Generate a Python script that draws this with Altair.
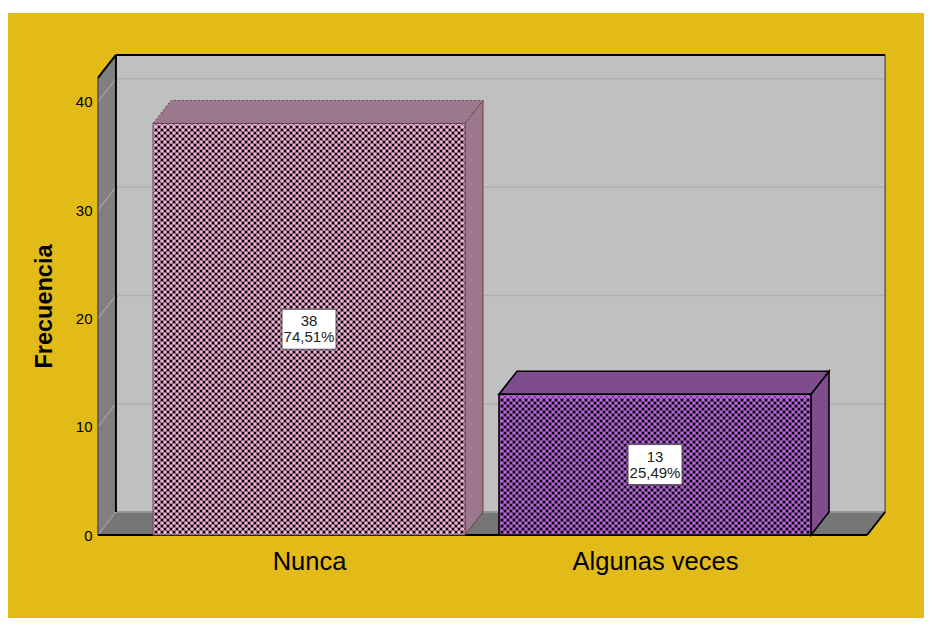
import json
import altair as alt
import pandas as pd

CATEGORIES = ["Nunca", "Algunas veces"]
COUNTS = [38, 13]
PERCENTS = ["74,51%", "25,49%"]
Y_TICKS = [0, 10, 20, 30, 40]

FRONT = ["#f6b0dc", "#b964dd"]
SIDE = ["#9d778b", "#7f4d8e"]
EDGE = ["#5c4450", "#000000"]
EDGE_W = [1, 1.6]
YELLOW = "#e2bb18"

# scale of the drawing: one category step and one count in pixels
PX_X, PX_Y = 346.0, 10.83
X_DOMAIN = [-301 / PX_X, 615 / PX_X]
Y_DOMAIN = [-83 / PX_Y, 522 / PX_Y]
DX, DY = 18 / PX_X, 23 / PX_Y       # depth of the 3-D box
L, R, T = -0.61, 1.613, 42.2        # floor left/right and wall height
HALF = 156 / PX_X                   # half a bar

xs = alt.Scale(domain=X_DOMAIN, nice=False, zero=False)
ys = alt.Scale(domain=Y_DOMAIN, nice=False, zero=False)

x_labels = json.dumps(CATEGORIES)
X_AXIS = alt.Axis(
    values=[0, 1], labelExpr=f"{x_labels}[round(datum.value)]", title=None,
    domain=False, ticks=False, grid=False, offset=-83, labelPadding=14,
    labelFont="Liberation Sans", labelFontSize=25.5, labelColor="#000000", labelAngle=0,
)
Y_AXIS = alt.Axis(
    values=Y_TICKS, title="Frecuencia", domain=False, ticks=False, grid=False,
    offset=-84, labelPadding=0, labelFont="Liberation Sans", labelFontSize=15,
    labelColor="#000000", titleFont="Liberation Sans", titleFontSize=23.5,
    titleFontWeight="bold", titleColor="#000000", titleX=-36, titleY=293,
)


def face(points, fill, stroke=None, sw=0, dash=None):
    df = pd.DataFrame(points, columns=["x", "y", "y2"])
    kw = dict(fill=fill, opacity=1, orient="vertical")
    if stroke:
        kw.update(stroke=stroke, strokeWidth=sw)
    if dash:
        kw.update(strokeDash=dash)
    return alt.Chart(df).mark_area(**kw).encode(
        x=alt.X("x:Q", scale=xs, axis=X_AXIS),
        y=alt.Y("y:Q", scale=ys, axis=Y_AXIS, stack=None),
        y2="y2:Q",
    )


def lines(rows, color, width):
    df = pd.DataFrame(rows, columns=["x", "y", "x2", "y2"])
    return alt.Chart(df).mark_rule(color=color, strokeWidth=width).encode(
        x=alt.X("x:Q", scale=xs, axis=X_AXIS),
        y=alt.Y("y:Q", scale=ys, axis=Y_AXIS),
        x2="x2:Q",
        y2="y2:Q",
    )


def hatch(x0, x1, y0, y1, step=6.0):
    """Cross hatch of a bar face: clipped 45-degree strokes, in data units."""
    w, h = (x1 - x0) * PX_X, (y1 - y0) * PX_Y
    rows = []
    k = -int(h / step) - 1
    while k * step < w:
        c = k * step                      # rising stroke  X = Y + c
        ax, ay = max(c, 0), max(-c, 0)
        bx = min(w, h + c)
        if bx > ax:
            rows.append((x0 + ax / PX_X, y0 + ay / PX_Y, x0 + bx / PX_X, y0 + (bx - c) / PX_Y))
        k += 1
    k = 1
    while k * step < w + h:
        c = k * step                      # falling stroke X = c - Y
        ax = max(c - h, 0)
        bx = min(w, c)
        if bx > ax:
            rows.append((x0 + ax / PX_X, y0 + (c - ax) / PX_Y, x0 + bx / PX_X, y0 + (c - bx) / PX_Y))
        k += 1
    return rows


def hatch_knots(x0, x1, y0, y1, step=6.0):
    """Dark knots where the strokes of the cross hatch meet, inside the face."""
    half = step / 2
    na, nb = int((x1 - x0) * PX_X / half), int((y1 - y0) * PX_Y / half)
    return pd.DataFrame(
        [(x0 + a * half / PX_X, y0 + b * half / PX_Y)
         for a in range(1, na) for b in range(1, nb) if (a + b) % 2 == 0],
        columns=["x", "y"],
    )


layers = []
layers.append(face([(L + DX, DY, T + DY), (R + DX, DY, T + DY)], "#c0c0c0"))
layers.append(face([(L, 0, T), (L + DX, DY, T + DY)], "#808080"))
layers.append(face([(L, 0, 0), (L + DX, 0, DY), (R, 0, DY), (R + DX, DY, DY)], "#767676"))

layers.append(lines([(L + DX, v + DY, R + DX, v + DY) for v in Y_TICKS], "#b0b0b0", 1.5))
layers.append(lines([(L, v, L + DX, v + DY) for v in Y_TICKS], "#a4a4a4", 1.2))
layers.append(lines([(L + DX, DY, R + DX, DY)], "#8c8c8c", 1.5))
layers.append(lines([(L, 0, L, T), (R + DX, DY, R + DX, T + DY)], "#333333", 1))
layers.append(lines([
    (L, T, L + DX, T + DY), (L + DX, T + DY, R + DX, T + DY), (L + DX, DY, L + DX, T + DY),
    (L, 0, R, 0), (R, 0, R + DX, DY),
], "#000000", 2))

for i, v in enumerate(COUNTS):
    x0, x1 = i - HALF, i + HALF
    dash = [2, 2] if i == 0 else None
    layers.append(face([(x1, 0, v), (x1 + DX, DY, v + DY)], SIDE[i], EDGE[i], EDGE_W[i]))
    layers.append(face(
        [(x0, v, v), (x0 + DX, v, v + DY), (x1, v, v + DY), (x1 + DX, v + DY, v + DY)],
        SIDE[i], EDGE[i], EDGE_W[i], dash,
    ))
    layers.append(face([(x0, 0, v), (x1, 0, v)], FRONT[i]))
    layers.append(lines(hatch(x0, x1, 0, v), "#1a1a1a", 0.5))
    layers.append(alt.Chart(hatch_knots(x0, x1, 0, v)).mark_point(
        shape="circle", filled=True, size=9, color="#000000", opacity=1,
    ).encode(
        x=alt.X("x:Q", scale=xs, axis=X_AXIS),
        y=alt.Y("y:Q", scale=ys, axis=Y_AXIS),
    ))
    layers.append(face([(x0, 0, v), (x1, 0, v)], "transparent", EDGE[i], EDGE_W[i]))

# value labels
box_w, box_h = 27 / PX_X, 20 / PX_Y
boxes = pd.DataFrame({
    "x": [i - box_w for i in range(2)], "x2": [i + box_w for i in range(2)],
    "y": [v / 2 - box_h for v in COUNTS], "y2": [v / 2 + box_h for v in COUNTS],
})
layers.append(alt.Chart(boxes).mark_rect(fill="#ffffff", stroke="#555555", strokeWidth=1).encode(
    x=alt.X("x:Q", scale=xs, axis=X_AXIS), x2="x2:Q",
    y=alt.Y("y:Q", scale=ys, axis=Y_AXIS), y2="y2:Q",
))
text_rows = []
for i, v in enumerate(COUNTS):
    text_rows.append({"x": i, "y": v / 2 + 8 / PX_Y, "t": str(v)})
    text_rows.append({"x": i, "y": v / 2 - 8 / PX_Y, "t": PERCENTS[i]})
layers.append(alt.Chart(pd.DataFrame(text_rows)).mark_text(
    font="Liberation Sans", fontSize=15, color="#222222", baseline="middle", align="center",
).encode(
    x=alt.X("x:Q", scale=xs, axis=X_AXIS),
    y=alt.Y("y:Q", scale=ys, axis=Y_AXIS),
    text="t:N",
))

chart = alt.layer(*layers).properties(
    width=916, height=605,
    padding={"left": 0, "top": 5, "right": 0, "bottom": 0},
    autosize=alt.AutoSizeParams(type="none"),
    background="#ffffff",
).configure_view(fill=YELLOW, stroke=None)

chart.save("out.html", embed_options={"renderer": "svg", "actions": False})
